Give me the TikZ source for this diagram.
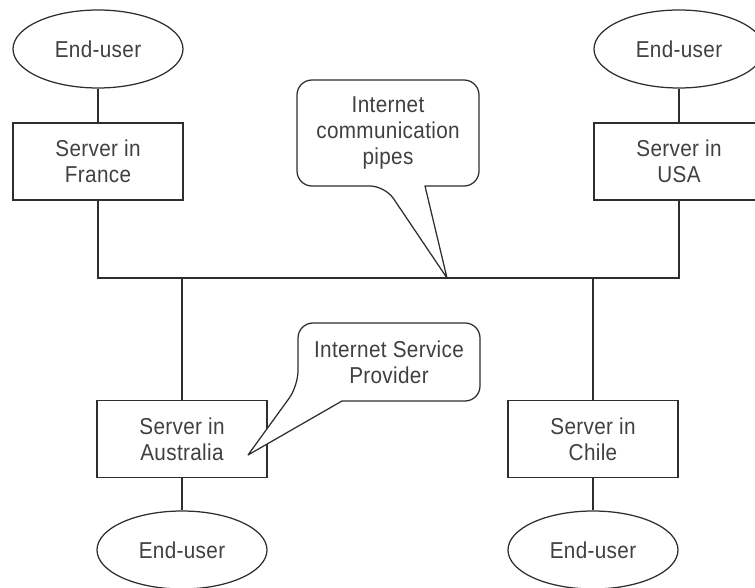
\documentclass[tikz,border=0pt]{standalone}
\usepackage{fontspec}
\setmainfont{Liberation Sans}[FakeStretch=0.9, LetterSpace=1.5]
\usetikzlibrary{shapes.geometric}
\definecolor{ink}{HTML}{2E2E2E}
\definecolor{txt}{HTML}{404040}
\begin{document}
\begin{tikzpicture}[x=1pt,y=-1pt,
  line width=1.25pt, draw=ink,
  every node/.style={font=\fontsize{23}{26}\selectfont, text=txt, align=center},
  userell/.style={ellipse, draw=ink, line width=1.25pt, inner sep=0pt, minimum width=170pt, minimum height=78pt},
  serverbox/.style={rectangle, draw=ink, line width=1.25pt, inner sep=0pt, minimum width=170pt, minimum height=77pt},
  calloutline/.style={draw=ink, line width=1.25pt, fill=white, line join=round}]
\useasboundingbox (0,0) rectangle (755,588);
% end-users and servers
\node[userell] (eFR) at (98,49) {End-user};
\node[serverbox] (sFR) at (98,161.5) {Server in\\France};
\node[userell] (eUS) at (679,49) {End-user};
\node[serverbox] (sUS) at (679,161.5) {Server in\\USA};
\node[serverbox] (sAU) at (182,439) {Server in\\Australia};
\node[userell] (eAU) at (182,550) {End-user};
\node[serverbox] (sCL) at (593,439) {Server in\\Chile};
\node[userell] (eCL) at (593,550) {End-user};
% bus coordinates
\coordinate (busL) at (98,278);
\coordinate (busR) at (679,278);
\coordinate (jAU) at (182,278);
\coordinate (jCL) at (593,278);
% connectors
\draw[ink] (eFR) -- (sFR);
\draw[ink] (eUS) -- (sUS);
\draw[ink] (sFR) -- (busL) -- (busR) -- (sUS);
\draw[ink] (jAU) -- (sAU);
\draw[ink] (jCL) -- (sCL);
\draw[ink] (sAU) -- (eAU);
\draw[ink] (sCL) -- (eCL);
% callout: internet pipes
\coordinate (tipPipes) at (447,278);
\draw[calloutline, rounded corners=15pt] (425,186) -- (479,186) -- (479,80) -- (297,80) -- (297,186) -- (385,186) [sharp corners] -- (tipPipes) -- cycle;
\node (cPipes) at (388,133) {Internet\\communication\\pipes};
% callout: ISP
\coordinate (tipISP) at (248,455);
\draw[calloutline, rounded corners=15pt] (342,401) -- (480,401) -- (480,323) -- (298,323) -- (298,386) [sharp corners] -- (tipISP) -- cycle;
\node (cISP) at (389,362) {Internet Service\\Provider};
\end{tikzpicture}
\end{document}
